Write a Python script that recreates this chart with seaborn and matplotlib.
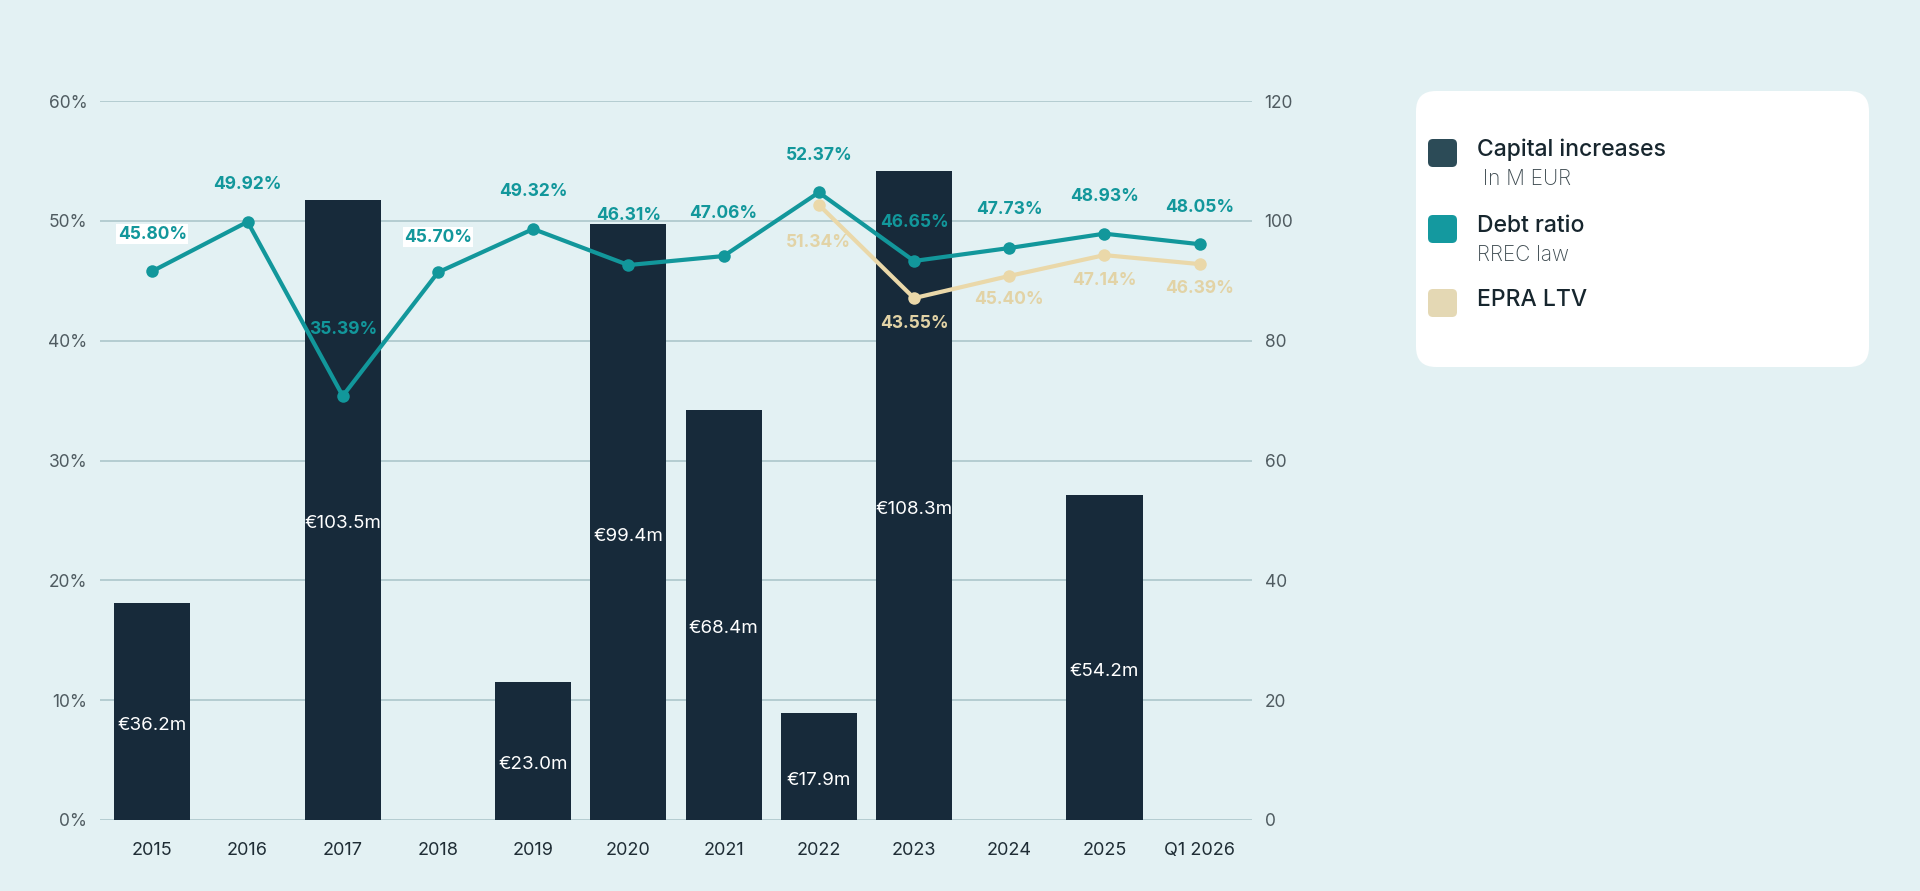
import numpy as np
import pandas as pd
import matplotlib
matplotlib.use("Agg")
import matplotlib.pyplot as plt
from matplotlib.patches import FancyBboxPatch
from matplotlib.ticker import FuncFormatter, MultipleLocator
import seaborn as sns

# ---------------- data ----------------
years = ["2015", "2016", "2017", "2018", "2019", "2020", "2021",
         "2022", "2023", "2024", "2025", "Q1 2026"]
capital_increases = [36.2, 0, 103.5, 0, 23.0, 99.4, 68.4, 17.9, 108.3, 0, 54.2, 0]
debt_ratio = [45.80, 49.92, 35.39, 45.70, 49.32, 46.31, 47.06, 52.37, 46.65, 47.73, 48.93, 48.05]
epra_years = ["2022", "2023", "2024", "2025", "Q1 2026"]
epra_ltv = [51.34, 43.55, 45.40, 47.14, 46.39]

# ---------------- style ----------------
BG = "#e3f1f3"
BAR = "#172a3a"
TEAL = "#12979b"
BEIGE = "#ead8a9"
BEIGE_TXT = "#e2d3a6"
GRID = "#a8c3c7"
TICK = "#4f5b60"
XTICK = "#1f2d35"

# label offsets (pixels above/below point) and highlight flags – layout only
debt_dy_px = [37, 37, 66, 35, 37, 50, 43, 37, 38, 39, 37, 37]
debt_white_box = [True, False, False, True, False, False, False, False, False, False, False, False]
epra_dy_px = [-38, -25, -24, -25, -24]

sns.set_style("white")
plt.rcParams["font.family"] = ["Inter", "DejaVu Sans"]

W, H = 1920, 891
fig = plt.figure(figsize=(W / 100, H / 100), dpi=100, facecolor=BG)
ax_l, ax_r, ax_t, ax_b = 100, 1252, 101, 820
ax = fig.add_axes([ax_l / W, (H - ax_b) / H, (ax_r - ax_l) / W, (ax_b - ax_t) / H])
ax.set_facecolor(BG)

# bars (right scale 0-120)
df_bar = pd.DataFrame({"year": years, "value": capital_increases})
sns.barplot(data=df_bar, x="year", y="value", color=BAR, saturation=1,
            width=0.8, ax=ax, zorder=2, linewidth=0, edgecolor="none")
ax.set_ylim(0, 120)
ax.set_xlim(-0.55, len(years) - 0.45)
ax.yaxis.set_major_locator(MultipleLocator(20))
ax.grid(axis="y", color=GRID, linewidth=1.1, zorder=0)
ax.set_axisbelow(True)
ax.set_xlabel("")
ax.set_ylabel("")
for s in ax.spines.values():
    s.set_visible(False)

for i, v in enumerate(capital_increases):
    if v > 0:
        ax.annotate(f"€{v:.1f}m", (i, v / 2), xytext=(0, -10), textcoords="offset points",
                    ha="center", va="center", color="white", fontsize=13.5, zorder=5)

# lines (left scale 0-60%)
ax2 = ax.twinx()
pos = {y: i for i, y in enumerate(years)}
x_all = [pos[y] for y in years]
x_epra = [pos[y] for y in epra_years]

sns.lineplot(x=x_epra, y=epra_ltv, ax=ax2, color=BEIGE, linewidth=3.0,
             marker="o", markersize=9, markeredgewidth=0, zorder=3)
sns.lineplot(x=x_all, y=debt_ratio, ax=ax2, color=TEAL, linewidth=3.0,
             marker="o", markersize=9, markeredgewidth=0, zorder=4)
ax2.set_ylim(0, 60)
ax2.yaxis.set_major_locator(MultipleLocator(10))
ax2.yaxis.set_major_formatter(FuncFormatter(lambda v, p: f"{v:.0f}%"))
for s in ax2.spines.values():
    s.set_visible(False)

for i, (x, v) in enumerate(zip(x_all, debt_ratio)):
    kw = {}
    if debt_white_box[i]:
        kw["bbox"] = dict(boxstyle="square,pad=0.08", fc="white", ec="none")
    ax2.annotate(f"{v:.2f}%", (x, v), xytext=(0, debt_dy_px[i] * 0.72),
                 textcoords="offset points", ha="center", va="center",
                 color=TEAL, fontsize=12.5, fontweight="bold", zorder=6, **kw)
for i, (x, v) in enumerate(zip(x_epra, epra_ltv)):
    ax2.annotate(f"{v:.2f}%", (x, v), xytext=(0, epra_dy_px[i] * 0.72),
                 textcoords="offset points", ha="center", va="center",
                 color=BEIGE_TXT, fontsize=12.5, fontweight="bold", zorder=6)

# axis placement: bar scale on the right, percent scale on the left
ax.yaxis.tick_right()
ax2.yaxis.tick_left()
ax.tick_params(axis="y", length=0, pad=9, labelsize=12.5, labelcolor=TICK)
ax2.tick_params(axis="y", length=0, pad=9, labelsize=12.5, labelcolor=TICK)
ax.tick_params(axis="x", length=0, pad=16, labelsize=13, labelcolor=XTICK)
ax2.set_ylabel("")

# ---------------- legend box ----------------
lx0, ly0, lx1, ly1 = 1416, 91, 1869, 367
lax = fig.add_axes([lx0 / W, (H - ly1) / H, (lx1 - lx0) / W, (ly1 - ly0) / H])
lax.set_xlim(0, lx1 - lx0)
lax.set_ylim(ly1 - ly0, 0)
lax.axis("off")
lax.add_patch(FancyBboxPatch((0, 0), lx1 - lx0, ly1 - ly0,
                             boxstyle="round,pad=0,rounding_size=20",
                             fc="white", ec="none", clip_on=False))
entries = [
    ("Capital increases", " In M EUR", "#2c4b57", 48),
    ("Debt ratio", "RREC law", "#14999f", 124),
    ("EPRA LTV", None, "#e4d8b4", 198),
]
for title, sub, col, ytop in entries:
    lax.add_patch(FancyBboxPatch((12, ytop), 29, 28,
                                 boxstyle="round,pad=0,rounding_size=5",
                                 fc=col, ec="none"))
    lax.text(61, ytop + 11, title, ha="left", va="center", fontsize=16.5,
             color="#17262e", fontweight="medium")
    if sub:
        lax.text(61, ytop + 40, sub, ha="left", va="center", fontsize=15,
                 color="#3e4b51", fontweight="light")

fig.savefig("out.png", dpi=100, facecolor=BG)
